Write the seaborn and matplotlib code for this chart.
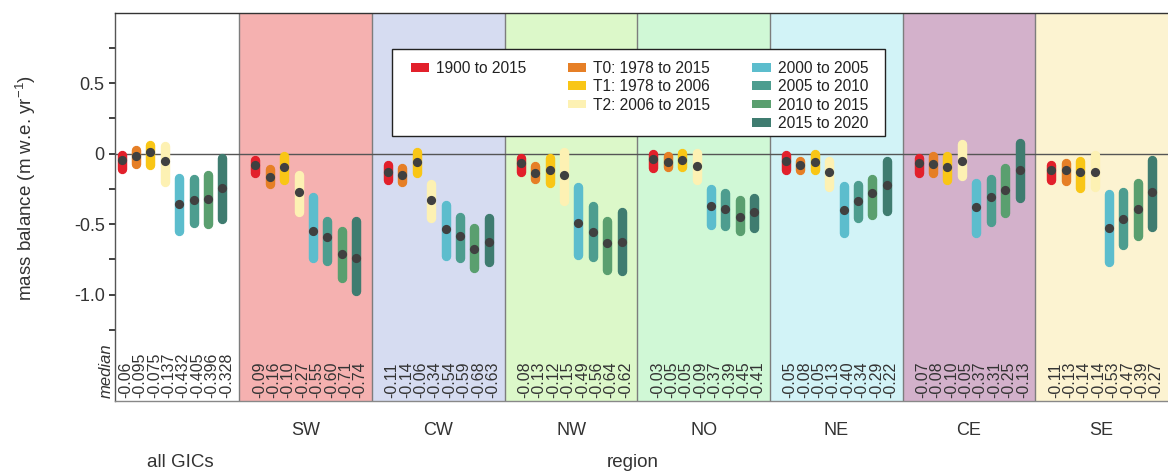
import numpy as np
import pandas as pd
import matplotlib
matplotlib.use('Agg')
import matplotlib.pyplot as plt
import seaborn as sns
from matplotlib.patches import Patch, Rectangle
from matplotlib.transforms import blended_transform_factory

# groups and periods
regions = ['all GICs', 'SW', 'CW', 'NW', 'NO', 'NE', 'CE', 'SE']
periods = ['1900 to 2015', 'T0: 1978 to 2015', 'T1: 1978 to 2006', 'T2: 2006 to 2015',
           '2000 to 2005', '2005 to 2010', '2010 to 2015', '2015 to 2020']
period_colors = ['#e2202b', '#e67f26', '#f9c616', '#fdf1b3',
                 '#5cbdcd', '#4d9d8f', '#5a9f6f', '#3f7c70']
panel_colors = ['#ffffff', '#f5b1b0', '#d6dcf1', '#dcf8c9',
                '#d0f8d6', '#d2f3f7', '#d3b1cb', '#fcf3d1']

# upper / lower end of each range bar (m w.e. per yr), one row per group
bar_top = [
    [0.02, 0.057, 0.097, 0.085, -0.139, -0.146, -0.116, 0.005],
    [-0.009, -0.078, 0.014, -0.12, -0.276, -0.447, -0.517, -0.442],
    [-0.05, -0.068, 0.045, -0.18, -0.333, -0.418, -0.494, -0.423],
    [0.004, -0.052, 0.004, 0.045, -0.205, -0.34, -0.447, -0.38],
    [0.033, 0.014, 0.038, 0.038, -0.215, -0.248, -0.295, -0.281],
    [0.021, -0.017, 0.033, -0.021, -0.2, -0.19, -0.144, -0.017],
    [0.0, 0.018, 0.018, 0.1, -0.175, -0.15, -0.07, 0.109],
    [-0.05, -0.033, -0.021, 0.026, -0.25, -0.24, -0.175, -0.012],
]
bar_bottom = [
    [-0.14, -0.11, -0.115, -0.234, -0.583, -0.527, -0.536, -0.498],
    [-0.175, -0.25, -0.222, -0.447, -0.777, -0.794, -0.914, -1.009],
    [-0.22, -0.234, -0.17, -0.49, -0.759, -0.773, -0.844, -0.806],
    [-0.166, -0.217, -0.24, -0.37, -0.75, -0.77, -0.86, -0.867],
    [-0.139, -0.132, -0.128, -0.222, -0.541, -0.546, -0.584, -0.56],
    [-0.149, -0.149, -0.151, -0.27, -0.594, -0.49, -0.47, -0.442],
    [-0.17, -0.172, -0.222, -0.195, -0.6, -0.52, -0.453, -0.35],
    [-0.22, -0.23, -0.277, -0.27, -0.80, -0.68, -0.619, -0.553],
]
dot_value = [
    [-0.047, -0.014, 0.014, -0.054, -0.359, -0.33, -0.319, -0.248],
    [-0.08, -0.167, -0.096, -0.274, -0.548, -0.593, -0.713, -0.744],
    [-0.128, -0.151, -0.061, -0.33, -0.536, -0.588, -0.676, -0.624],
    [-0.07, -0.137, -0.12, -0.155, -0.494, -0.56, -0.631, -0.624],
    [-0.04, -0.061, -0.045, -0.092, -0.37, -0.39, -0.45, -0.418],
    [-0.054, -0.08, -0.059, -0.132, -0.404, -0.34, -0.277, -0.224],
    [-0.068, -0.075, -0.094, -0.05, -0.38, -0.31, -0.258, -0.12],
    [-0.12, -0.12, -0.13, -0.13, -0.525, -0.465, -0.39, -0.274],
]
median_labels = [
    ['-0.06', '-0.095', '-0.075', '-0.137', '-0.432', '-0.405', '-0.396', '-0.328'],
    ['-0.09', '-0.16', '-0.10', '-0.27', '-0.55', '-0.60', '-0.71', '-0.74'],
    ['-0.11', '-0.14', '-0.06', '-0.34', '-0.54', '-0.59', '-0.68', '-0.63'],
    ['-0.08', '-0.13', '-0.12', '-0.15', '-0.49', '-0.56', '-0.64', '-0.62'],
    ['-0.03', '-0.05', '-0.05', '-0.09', '-0.37', '-0.39', '-0.45', '-0.41'],
    ['-0.05', '-0.08', '-0.05', '-0.13', '-0.40', '-0.34', '-0.29', '-0.22'],
    ['-0.07', '-0.08', '-0.10', '-0.05', '-0.37', '-0.31', '-0.25', '-0.13'],
    ['-0.11', '-0.13', '-0.14', '-0.14', '-0.53', '-0.47', '-0.39', '-0.27'],
]

# layout
first_w, region_w = 0.95, 1.013
edges = [0.0] + [first_w + region_w * k for k in range(len(regions))]
bar_step = 0.11
bar_lw = 6.8  # points
ylim = (-1.755, 1.0)

sns.set_theme(style='white')
plt.rcParams['font.family'] = ['Liberation Sans', 'DejaVu Sans']
plt.rcParams['mathtext.default'] = 'regular'
plt.rcParams['axes.unicode_minus'] = False
text_col = '#333333'

# long table for seaborn
rows = []
for g, reg in enumerate(regions):
    start = edges[g] + (0.05 if g == 0 else 0.122)
    for k, per in enumerate(periods):
        rows.append({'region': reg, 'period': per, 'x': start + k * bar_step,
                     'top': bar_top[g][k], 'bottom': bar_bottom[g][k],
                     'dot': dot_value[g][k], 'median': median_labels[g][k]})
df = pd.DataFrame(rows)

fig, ax = plt.subplots(figsize=(11.68, 4.74), dpi=100)
fig.subplots_adjust(left=0.0985, right=1.0, top=0.9736, bottom=0.154)
ax.set_xlim(edges[0], edges[-1])
ax.set_ylim(*ylim)

# panel backgrounds + separators
for g in range(len(regions)):
    ax.axvspan(edges[g], edges[g + 1], color=panel_colors[g], lw=0, zorder=0)
for e in edges[1:-1]:
    ax.axvline(e, color='#7d7d7d', lw=1.0, zorder=0.5)
ax.axhline(0, color='#555555', lw=1.0, zorder=1)

# round-capped range bars (shrink ends by cap radius so the visual ends match)
ax_h_px = fig.get_figheight() * fig.dpi * (0.9736 - 0.154)
cap = (bar_lw * fig.dpi / 72 / 2) / (ax_h_px / (ylim[1] - ylim[0]))
for k, per in enumerate(periods):
    sub = df[df['period'] == per]
    lc = ax.vlines(sub['x'], sub['bottom'] + cap, sub['top'] - cap,
                   color=period_colors[k], lw=bar_lw, zorder=2)
    lc.set_capstyle('round')

sns.scatterplot(data=df, x='x', y='dot', color='#404040', s=44, linewidth=0,
                zorder=4, ax=ax, legend=False)

# median labels along the bottom
for _, r in df.iterrows():
    ax.text(r['x'] + 0.03, -1.735, r['median'], rotation=90, ha='center', va='bottom',
            fontsize=11.5, color=text_col)
ax.text(-0.065, -1.735, 'median', rotation=90, ha='center', va='bottom',
        fontsize=12, style='italic', color=text_col, clip_on=False)

# group labels under the axis
tr = blended_transform_factory(ax.transData, ax.transAxes)
for g, reg in enumerate(regions[1:], start=1):
    ax.text((edges[g] + edges[g + 1]) / 2, -0.077, reg, transform=tr,
            ha='center', va='center', fontsize=13, color=text_col)
ax.text(0.5, -0.159, 'all GICs', transform=tr, ha='center', va='center',
        fontsize=13.5, color=text_col)
ax.text(3.95, -0.159, 'region', transform=tr, ha='center', va='center',
        fontsize=13.5, color=text_col)

# axes styling
ax.set_xlabel('')
ax.set_xticks([])
ax.set_yticks([0.5, 0, -0.5, -1.0])
ax.set_yticklabels(['0.5', '0', '-0.5', '-1.0'])
ax.set_yticks([0.75, 0.25, -0.25, -0.75, -1.25], minor=True)
ax.tick_params(axis='y', which='both', direction='out', length=4.5, width=1.3,
               color='#333333', labelsize=13, labelcolor=text_col, left=True, pad=3)
ax.set_ylabel('mass balance (m w.e. yr$^{-1}$)', fontsize=13.5, color=text_col)
ax.yaxis.set_label_coords(-0.073, 0.548)
ax.spines['right'].set_visible(False)
ax.spines['top'].set_color('#333333')
ax.spines['left'].set_color('#555555')
ax.spines['bottom'].set_color('#888888')
for s in ['top', 'left', 'bottom']:
    ax.spines[s].set_linewidth(1.0)

# legend: 3 columns (1 / 3 / 4 entries), padded with blank handles
blank = Patch(facecolor='none', edgecolor='none')
handles = [Patch(facecolor=c, edgecolor='none') for c in period_colors]
leg_handles = [handles[0], blank, blank, blank,
               handles[1], handles[2], handles[3], blank,
               handles[4], handles[5], handles[6], handles[7]]
leg_labels = [periods[0], '', '', '',
              periods[1], periods[2], periods[3], '',
              periods[4], periods[5], periods[6], periods[7]]
ax.add_patch(Rectangle((0.263, 0.682), 0.4682, 0.224, transform=ax.transAxes,
                       facecolor='white', edgecolor='#222222', lw=1.0, zorder=5))
leg = ax.legend(leg_handles, leg_labels, ncol=3, loc='upper left', mode='expand',
                bbox_to_anchor=(0.2808, 0.70, 0.4343, 0.176), fontsize=11.2,
                frameon=False, handlelength=1.16, handleheight=0.5, handletextpad=0.45,
                labelspacing=0.22, borderpad=0, borderaxespad=0)
leg.set_zorder(6)
for t in leg.get_texts():
    t.set_color('#222222')

fig.savefig('out.png', dpi=100)
